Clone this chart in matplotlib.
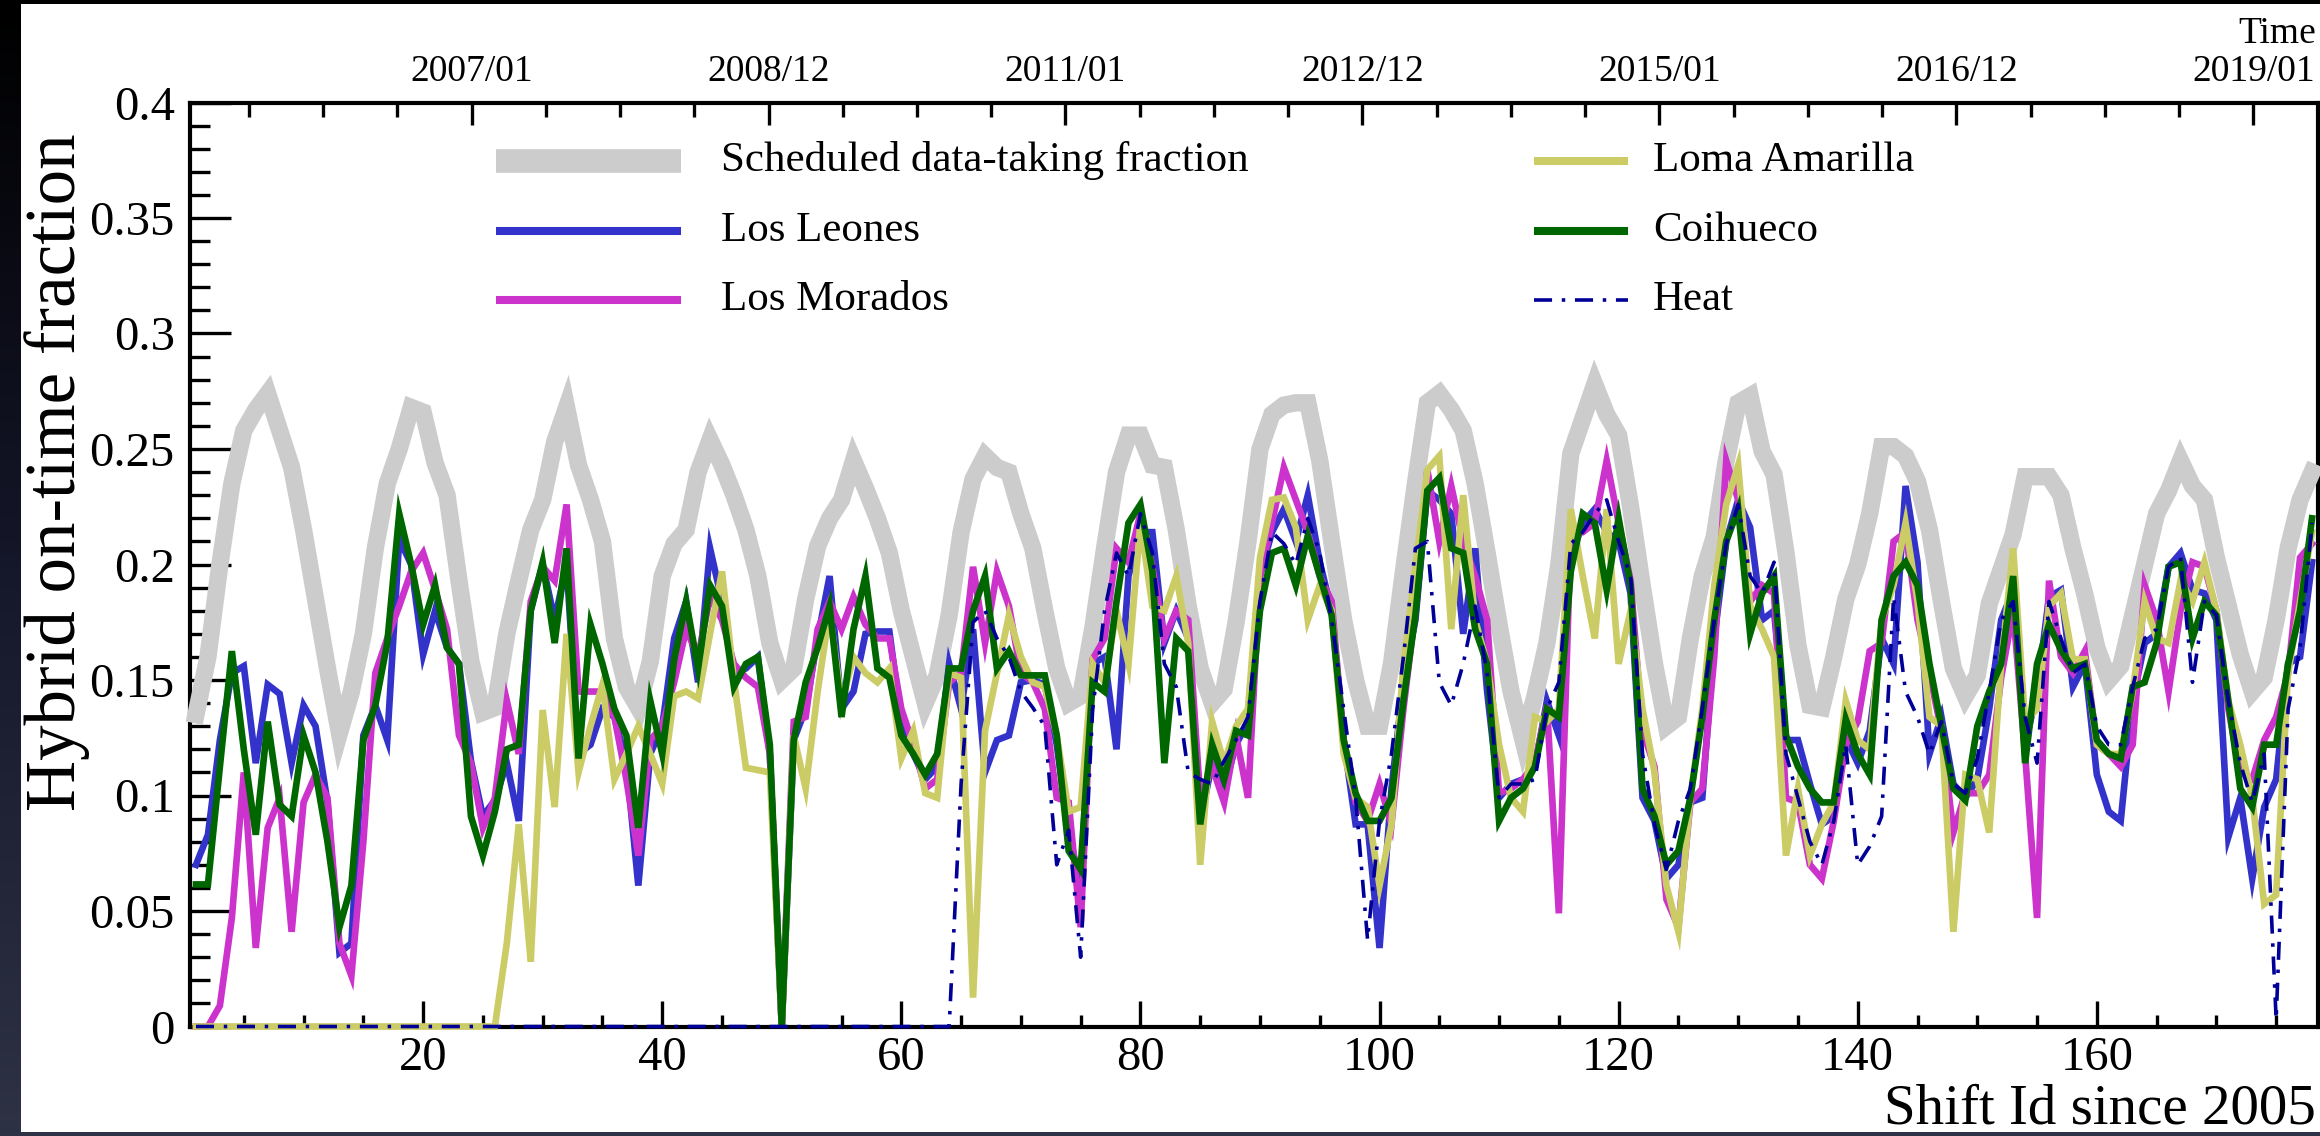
import numpy as np
import matplotlib
matplotlib.use("Agg")
import matplotlib.pyplot as plt
from matplotlib.lines import Line2D
from matplotlib.patches import Rectangle
from matplotlib.colors import LinearSegmentedColormap
from matplotlib.ticker import MultipleLocator, FixedLocator, FuncFormatter

plt.rcParams['font.family'] = ['Liberation Serif', 'DejaVu Serif']
plt.rcParams['lines.scale_dashes'] = False

# ---------------- data ----------------
shift_id = np.arange(1, 179)

scheduled = [
    .135, .16, .2, .235, .258, .267, .274, .258, .242, .215,
    .185, .155, .127, .145, .17, .207, .235, .25, .268, .266,
    .244, .23, .193, .158, .136, .138, .17, .193, .215, .228,
    .253, .268, .243, .228, .21, .168, .147, .138, .158, .195,
    .209, .215, .24, .254, .243, .23, .215, .195, .166, .15,
    .155, .185, .208, .22, .228, .245, .233, .22, .205, .18,
    .16, .14, .152, .178, .214, .237, .247, .242, .24, .222,
    .207, .18, .155, .14, .143, .172, .207, .24, .256, .256,
    .243, .242, .215, .182, .155, .14, .146, .175, .21, .25,
    .265, .269, .27, .27, .245, .21, .176, .15, .13, .13,
    .157, .197, .235, .27, .274, .267, .258, .235, .205, .174,
    .145, .124, .143, .166, .2, .248, .263, .278, .265, .256,
    .225, .19, .157, .13, .134, .168, .195, .212, .245, .27,
    .273, .249, .239, .205, .165, .139, .138, .16, .185, .2,
    .222, .251, .251, .247, .236, .215, .184, .155, .143, .152,
    .183, .198, .213, .238, .238, .238, .23, .207, .187, .164,
    .15, .156, .178, .2, .222, .232, .245, .234, .228, .203,
    .182, .161, .145, .151, .176, .207, .228, .24]

los_leones = [
    .070, .083, .124, .153, .156, .114, .148, .144, .114, .139,
    .130, .097, .032, .036, .126, .139, .124, .211, .200, .161,
    .180, .164, .157, .115, .091, .098, .114, .089, .180, .200,
    .176, .200, .118, .122, .1375, .134, .114, .061, .118, .130,
    .168, .184, .149, .207, .184, .153, .155, .160, .118, .0,
    .124, .1375, .168, .195, .1375, .145, .170, .171, .171, .132,
    .118, .107, .1125, .157, .1375, .172, .110, .124, .126, .149,
    .150, .148, .122, .084, .061, .157, .160, .120, .195, .214,
    .214, .166, .180, .168, .089, .114, .103, .122, .132, .195,
    .214, .224, .210, .230, .201, .180, .124, .0875, .0875, .034,
    .103, .149, .176, .232, .228, .222, .170, .207, .145, .099,
    .105, .107, .1125, .141, .126, .203, .218, .224, .214, .210,
    .1875, .099, .089, .064, .070, .097, .099, .168, .210, .228,
    .216, .176, .180, .124, .124, .105, .0875, .091, .125, .114,
    .128, .168, .157, .234, .201, .118, .134, .105, .099, .107,
    .1375, .176, .189, .122, .145, .186, .189, .147, .157, .109,
    .093, .089, .141, .166, .170, .199, .205, .189, .1875, .176,
    .082, .099, .064, .095, .107, .157, .160, .201]

los_morados = [
    0, 0, .009, .047, .110, .034, .086, .099, .041, .097,
    .109, .099, .036, .022, .080, .153, .168, .182, .197, .205,
    .189, .172, .126, .114, .086, .099, .141, .118, .184, .199,
    .193, .226, .145, .145, .145, .134, .107, .074, .124, .130,
    .149, .172, .160, .186, .176, .157, .151, .147, .118, 0,
    .132, .134, .172, .184, .172, .186, .174, .168, .168, .1375,
    .122, .103, .107, .149, .153, .199, .166, .197, .182, .153,
    .149, .1375, .099, .097, .043, .159, .168, .207, .201, .222,
    .199, .168, .180, .176, .099, .1125, .097, .126, .099, .195,
    .218, .242, .228, .214, .195, .184, .124, .097, .089, .105,
    .0875, .1375, .180, .241, .210, .234, .210, .195, .176, .101,
    .103, .107, .114, .139, .049, .214, .214, .218, .245, .218,
    .193, .128, .1125, .055, .043, .097, .103, .160, .245, .228,
    .184, .191, .1875, .099, .097, .070, .064, .089, .122, .132,
    .1625, .166, .210, .214, .176, .153, .128, .084, .101, .101,
    .109, .151, .180, .118, .047, .193, .160, .153, .1625, .122,
    .118, .1125, .122, .191, .176, .145, .180, .201, .199, .180,
    .1375, .110, .107, .124, .134, .153, .203, .209]

loma_amarilla = [
    0, 0, 0, 0, 0, 0, 0, 0, 0, 0,
    0, 0, 0, 0, 0, 0, 0, 0, 0, 0,
    0, 0, 0, 0, 0, 0, .036, .0875, .028, .137,
    .095, .170, .110, .130, .148, .107, .118, .130, .118, .105,
    .143, .145, .142, .170, .197, .150, .112, .111, .110, 0,
    .126, .103, .145, .180, .140, .160, .153, .149, .155, .116,
    .128, .101, .099, .153, .151, .0125, .128, .153, .178, .160,
    .149, .147, .126, .093, .095, .157, .149, .180, .157, .218,
    .182, .180, .195, .166, .070, .132, .114, .130, .1375, .203,
    .228, .229, .216, .176, .191, .180, .118, .099, .095, .061,
    .0875, .157, .199, .241, .247, .172, .230, .176, .157, .122,
    .099, .093, .134, .132, .1375, .224, .195, .168, .224, .157,
    .180, .1375, .110, .061, .041, .099, .1375, .191, .226, .243,
    .182, .172, .160, .074, .103, .074, .0875, .097, .141, .124,
    .120, .176, .191, .218, .184, .134, .130, .041, .109, .107,
    .084, .157, .207, .132, .1375, .182, .1875, .159, .159, .122,
    .118, .118, .145, .184, .168, .166, .193, .184, .201, .180,
    .141, .122, .099, .053, .057, .153, .184, .214]

coihueco = [
    .0615, .0615, .1125, .1625, .120, .083, .132, .096, .091, .126,
    .110, .080, .043, .061, .124, .139, .166, .222, .200, .174,
    .191, .164, .157, .091, .074, .093, .120, .122, .180, .201,
    .166, .207, .116, .174, .157, .1375, .126, .086, .141, .118,
    .159, .184, .155, .191, .182, .147, .157, .160, .122, 0,
    .124, .149, .164, .182, .134, .172, .195, .155, .151, .126,
    .118, .109, .118, .155, .155, .180, .195, .155, .1625, .152,
    .152, .152, .126, .076, .068, .149, .145, .184, .218, .226,
    .197, .114, .168, .1625, .0875, .122, .107, .128, .126, .180,
    .205, .207, .191, .2125, .195, .178, .124, .101, .089, .089,
    .099, .141, .178, .232, .2375, .207, .205, .172, .157, .089,
    .099, .103, .1125, .1375, .134, .197, .222, .218, .189, .220,
    .191, .103, .091, .070, .076, .099, .134, .176, .210, .224,
    .170, .1875, .195, .126, .1125, .103, .097, .097, .133, .118,
    .109, .176, .195, .201, .191, .157, .130, .103, .098, .130,
    .145, .157, .195, .114, .157, .174, .163, .155, .157, .124,
    .118, .116, .147, .149, .166, .199, .201, .168, .184, .178,
    .141, .103, .095, .122, .122, .157, .180, .220]

heat = [0.0] * 64 + [
    .105, .175, .180, .168, .160, .145,
    .138, .130, .070, .085, .030, .137, .180, .205, .195, .222,
    .205, .157, .147, .110, .107, .105, .115, .124, .134, .184,
    .214, .209, .200, .220, .205, .176, .1375, .099, .0375, .089,
    .118, .160, .207, .210, .149, .139, .157, .182, .153, .099,
    .105, .105, .107, .1375, .149, .209, .214, .222, .228, .210,
    .195, .118, .0875, .068, .089, .103, .1375, .176, .209, .226,
    .195, .1875, .201, .118, .099, .080, .070, .089, .122, .070,
    .078, .091, .186, .145, .134, .118, .132, .105, .101, .116,
    .145, .176, .184, .134, .114, .184, .168, .153, .157, .130,
    .122, .122, .147, .168, .172, .199, .203, .149, .184, .178,
    .141, .114, .097, .118, .003, .1375, .164, .218]

series_labels = ["Scheduled data-taking fraction", "Los Leones", "Los Morados",
                 "Loma Amarilla", "Coihueco", "Heat"]
time_labels = ["2007/01", "2008/12", "2011/01", "2012/12", "2015/01", "2016/12", "2019/01"]

# ---------------- figure ----------------
W, H = 2320, 1136
fig = plt.figure(figsize=(W / 100, H / 100), dpi=100)

bg = fig.add_axes([0, 0, 1, 1])
bg.set_axis_off()
cmap = LinearSegmentedColormap.from_list("frame", ["#000000", "#15172a", "#2e3245"])
grad = np.linspace(0, 1, 256).reshape(-1, 1)
bg.imshow(grad, cmap=cmap, aspect="auto", extent=[0, 1, 0, 1], origin="upper")
bg.add_patch(Rectangle((21 / W, 4 / H), 1 - 21 / W, (1132 - 4) / H,
                       transform=bg.transAxes, facecolor="white", edgecolor="none"))
bg.set_xlim(0, 1)
bg.set_ylim(0, 1)

L, R, T, B = 190, 2318, 102.5, 1026.5
ax = fig.add_axes([L / W, (H - B) / H, (R - L) / W, (B - T) / H])
ax.set_facecolor("none")

styles = [
    dict(color="#cccccc", lw=12.5),
    dict(color="#3333cc", lw=4.8),
    dict(color="#cc33cc", lw=4.8),
    dict(color="#cccc66", lw=4.8),
    dict(color="#006600", lw=4.8),
    dict(color="#000099", lw=2.6, dashes=(13, 7, 2.5, 7)),
]
all_series = [scheduled, los_leones, los_morados, loma_amarilla, coihueco, heat]
for i, (vals, st) in enumerate(zip(all_series, styles)):
    ax.plot(shift_id, vals, zorder=3 + i, clip_on=False, solid_joinstyle="miter",
            **st)

ax.set_xlim(0.5, 178.5)
ax.set_ylim(0, 0.4)

ax.xaxis.set_major_locator(MultipleLocator(20))
ax.xaxis.set_minor_locator(MultipleLocator(5))
ax.yaxis.set_major_locator(MultipleLocator(0.05))
ax.yaxis.set_minor_locator(MultipleLocator(0.01))
ax.yaxis.set_major_formatter(FuncFormatter(lambda v, p: f"{v:g}"))
ax.xaxis.set_major_formatter(FuncFormatter(lambda v, p: f"{v:g}"))

for s in ax.spines.values():
    s.set_linewidth(3.0)
    s.set_zorder(2.5)

ax.tick_params(axis="x", which="both", direction="in", top=False, width=2.4,
               labelsize=35, pad=7)
ax.tick_params(axis="x", which="major", length=19)
ax.tick_params(axis="x", which="minor", length=9)
ax.tick_params(axis="y", which="both", direction="in", right=False, width=2.4,
               labelsize=35, pad=11)
ax.tick_params(axis="y", which="major", length=29.5)
ax.tick_params(axis="y", which="minor", length=14.5)

ax.set_xlabel("Shift Id since 2005", fontsize=41)
ax.xaxis.set_label_coords((2316 - L) / (R - L), (B - 1123) / (B - T))
ax.xaxis.label.set_ha("right")
ax.xaxis.label.set_va("baseline")

ax.set_ylabel("Hybrid on-time fraction", fontsize=51)
ax.yaxis.set_label_coords((90 - L) / (R - L), 0.6)

# top time axis
ax2 = ax.twiny()
ax2.set_xlim(ax.get_xlim())
top_major = [24.05 + 24.84 * k for k in range(len(time_labels))]
top_minor = [24.05 + 24.84 * k / 4 for k in range(-3, 4 * len(time_labels))]
top_minor = [v for v in top_minor if 0.5 < v < 178.5]
ax2.xaxis.set_major_locator(FixedLocator(top_major))
ax2.xaxis.set_minor_locator(FixedLocator(top_minor))
ax2.set_xticklabels(time_labels)
ax2.tick_params(axis="x", which="both", direction="in", width=2.4, labelsize=27, pad=10)
ax2.tick_params(axis="x", which="major", length=16)
ax2.tick_params(axis="x", which="minor", length=10)
for s in ax2.spines.values():
    s.set_visible(False)
fig.text(2316 / W, (H - 43) / H, "Time", ha="right", va="baseline", fontsize=27)

# legend (two blocks)
def ax_frac_x(px):
    return (px - L) / (R - L)

def ax_frac_y(py):
    return (B - py) / (B - T)

rows = [161, 231, 300]
legend_cols = [
    (496, 681, 721, [0, 1, 2]),
    (1534, 1628, 1653, [3, 4, 5]),
]
for x0, x1, xt, idxs in legend_cols:
    for r, i in zip(rows, idxs):
        st = dict(styles[i])
        if i == 0:
            st["lw"] = 17
        elif i < 5:
            st["lw"] = 5.8
        y = ax_frac_y(r)
        ln = Line2D([ax_frac_x(x0), ax_frac_x(x1)], [y, y], transform=ax.transAxes,
                    solid_capstyle="butt", **st)
        ax.add_line(ln)
        ax.text(ax_frac_x(xt), y, series_labels[i], transform=ax.transAxes,
                fontsize=31, va="center", ha="left")

fig.savefig("out.png", dpi=100, facecolor=fig.get_facecolor())
